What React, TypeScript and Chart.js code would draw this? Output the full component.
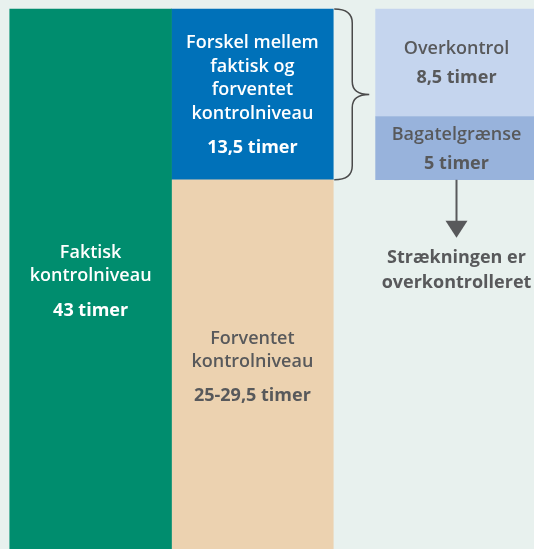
import React, { useEffect, useRef } from "react";
import { Chart, registerables } from "chart.js";

Chart.register(...registerables);

// ---- data ----
const categories = ["Faktisk / forventet", "Overkontrol"];
const faktiskTimer = 43;
const forventetTimer = 29.5;
const forskelTimer = 13.5;
const bagatelTimer = 5;
const overkontrolTimer = 8.5;

const faktiskLines = ["Faktisk", "kontrolniveau"];
const faktiskValue = "43 timer";
const forventetLines = ["Forventet", "kontrolniveau"];
const forventetValue = "25-29,5 timer";
const forskelLines = ["Forskel mellem", "faktisk og", "forventet", "kontrolniveau"];
const forskelValue = "13,5 timer";
const overkontrolLines = ["Overkontrol"];
const overkontrolValue = "8,5 timer";
const bagatelLines = ["Bagatelgrænse"];
const bagatelValue = "5 timer";
const conclusionLines = ["Strækningen er", "overkontrolleret"];

const FONT = "'Open Sans', sans-serif";
const GREY = "#58595b";

type SegLabel = {
  ds: number;
  idx: number;
  lines: string[];
  value: string;
  color: string;
  valueGap: number;
};

const segLabels: SegLabel[] = [
  { ds: 0, idx: 0, lines: faktiskLines, value: faktiskValue, color: "#ffffff", valueGap: 35 },
  { ds: 1, idx: 0, lines: forventetLines, value: forventetValue, color: GREY, valueGap: 34 },
  { ds: 2, idx: 0, lines: forskelLines, value: forskelValue, color: "#ffffff", valueGap: 34 },
  { ds: 3, idx: 1, lines: bagatelLines, value: bagatelValue, color: GREY, valueGap: 29 },
  { ds: 4, idx: 1, lines: overkontrolLines, value: overkontrolValue, color: GREY, valueGap: 29 },
];

const annotationPlugin = {
  id: "annotations",
  afterDatasetsDraw(chart: any) {
    const ctx = chart.ctx as CanvasRenderingContext2D;
    ctx.save();
    ctx.textAlign = "center";
    ctx.textBaseline = "middle";
    const lineH = 23.5;
    for (const s of segLabels) {
      const el = chart.getDatasetMeta(s.ds).data[s.idx];
      if (!el) continue;
      const top = Math.min(el.y, el.base);
      const bot = Math.max(el.y, el.base);
      const mid = (top + bot) / 2 + 1;
      const blockH = (s.lines.length - 1) * lineH + s.valueGap;
      const y = mid - blockH / 2;
      ctx.fillStyle = s.color;
      ctx.font = `600 18px ${FONT}`;
      s.lines.forEach((l, i) => ctx.fillText(l, el.x, y + i * lineH));
      ctx.font = `700 18px ${FONT}`;
      ctx.fillText(s.value, el.x, y + (s.lines.length - 1) * lineH + s.valueGap);
    }

    // brace next to the "forskel" segment
    const fe = chart.getDatasetMeta(2).data[0];
    if (fe) {
      const x0 = fe.x + fe.width / 2 + 1;
      const x1 = x0 + 18;
      const xt = x0 + 35;
      const yTop = Math.min(fe.y, fe.base);
      const yBot = Math.max(fe.y, fe.base);
      const ym = (yTop + yBot) / 2;
      ctx.strokeStyle = "#4a4a4a";
      ctx.lineWidth = 1.5;
      ctx.beginPath();
      ctx.moveTo(x0, yTop);
      ctx.quadraticCurveTo(x1, yTop, x1, yTop + 14);
      ctx.lineTo(x1, ym - 13);
      ctx.quadraticCurveTo(x1, ym, xt, ym);
      ctx.quadraticCurveTo(x1, ym, x1, ym + 13);
      ctx.lineTo(x1, yBot - 14);
      ctx.quadraticCurveTo(x1, yBot, x0, yBot);
      ctx.stroke();
    }

    // arrow below third bar
    const be = chart.getDatasetMeta(3).data[1];
    if (be) {
      const x = be.x;
      const y0 = Math.max(be.y, be.base);
      ctx.strokeStyle = GREY;
      ctx.fillStyle = GREY;
      ctx.lineWidth = 2;
      ctx.beginPath();
      ctx.moveTo(x, y0);
      ctx.lineTo(x, y0 + 43);
      ctx.stroke();
      ctx.beginPath();
      ctx.moveTo(x - 11, y0 + 41);
      ctx.lineTo(x + 11, y0 + 41);
      ctx.lineTo(x, y0 + 58);
      ctx.closePath();
      ctx.fill();
      ctx.font = `700 18px ${FONT}`;
      conclusionLines.forEach((l, i) => ctx.fillText(l, x, y0 + 78 + i * 25));
    }
    ctx.restore();
  },
};

export default function App() {
  const ref = useRef<HTMLCanvasElement | null>(null);
  useEffect(() => {
    if (!ref.current) return;
    const chart = new Chart(ref.current, {
      type: "bar",
      data: {
        labels: categories,
        datasets: [
          {
            label: "Faktisk kontrolniveau",
            data: [[0, faktiskTimer], null] as any,
            backgroundColor: "#008d6e",
            stack: "a",
          },
          {
            label: "Forventet kontrolniveau",
            data: [[0, forventetTimer], null] as any,
            backgroundColor: "#ecd2b0",
            stack: "b",
          },
          {
            label: "Forskel",
            data: [[forventetTimer, forventetTimer + forskelTimer], null] as any,
            backgroundColor: "#0071b9",
            stack: "b",
          },
          {
            label: "Bagatelgrænse",
            data: [null, [forventetTimer, forventetTimer + bagatelTimer]] as any,
            backgroundColor: "#98b3dc",
            stack: "c",
          },
          {
            label: "Overkontrol",
            data: [null, [forventetTimer + bagatelTimer, forventetTimer + bagatelTimer + overkontrolTimer]] as any,
            backgroundColor: "#c5d5ee",
            stack: "c",
          },
        ],
      },
      options: {
        animation: false,
        responsive: false,
        devicePixelRatio: 1,
        skipNull: true,
        barThickness: 161.75,
        borderWidth: 0,
        layout: { padding: { left: 29, right: 1, top: 9, bottom: 0 } },
        datasets: { bar: { clip: false as any } },
        scales: {
          x: { display: false },
          y: { display: false, stacked: false, min: 0, max: faktiskTimer },
        },
        plugins: { legend: { display: false }, tooltip: { enabled: false } },
      } as any,
      plugins: [annotationPlugin],
    });
    return () => chart.destroy();
  }, []);
  return (
    <div
      style={{
        position: "fixed",
        left: 0,
        top: 0,
        width: 534,
        height: 549,
        overflow: "hidden",
        background: "#e8f1ee",
      }}
    >
      <canvas ref={ref} width={600} height={553} style={{ display: "block" }} />
    </div>
  );
}
